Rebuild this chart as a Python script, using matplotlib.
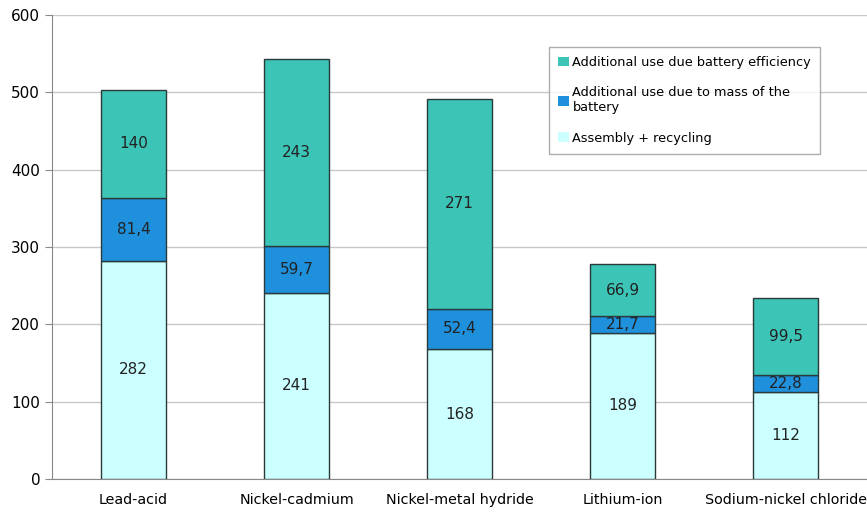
import matplotlib.pyplot as plt
import numpy as np

categories = ['Lead-acid', 'Nickel-cadmium', 'Nickel-metal hydride', 'Lithium-ion', 'Sodium-nickel chloride']
assembly = [282, 241, 168, 189, 112]
mass = [81.4, 59.7, 52.4, 21.7, 22.8]
efficiency = [140, 243, 271, 66.9, 99.5]

c_assembly = '#ccffff'
c_mass = '#1e90dc'
c_eff = '#3cc4b6'

fig = plt.figure(figsize=(8.67, 5.16), dpi=100)
ax = fig.add_axes([0.06, 0.0717, 0.94, 0.8993])

x = np.arange(len(categories))
w = 0.40
b1 = ax.bar(x, assembly, w, color=c_assembly, edgecolor='#2a3a3a', linewidth=1, zorder=3,
            label='Assembly + recycling')
bottom2 = np.array(assembly)
b2 = ax.bar(x, mass, w, bottom=bottom2, color=c_mass, edgecolor='#2a3a3a', linewidth=1, zorder=3,
            label='Additional use due to mass of the\nbattery')
bottom3 = bottom2 + np.array(mass)
b3 = ax.bar(x, efficiency, w, bottom=bottom3, color=c_eff, edgecolor='#2a3a3a', linewidth=1, zorder=3,
            label='Additional use due battery efficiency')

def fmt(v):
    s = ('%g' % v)
    return s.replace('.', ',')

for i in range(len(x)):
    ax.text(x[i], assembly[i] / 2, fmt(assembly[i]), ha='center', va='center', fontsize=11, color='#222222', zorder=4)
    ax.text(x[i], bottom2[i] + mass[i] / 2, fmt(mass[i]), ha='center', va='center', fontsize=11, color='#222222', zorder=4)
    ax.text(x[i], bottom3[i] + efficiency[i] / 2, fmt(efficiency[i]), ha='center', va='center', fontsize=11, color='#222222', zorder=4)

ax.set_xlim(-0.5, 4.5)
ax.set_ylim(0, 600)
ax.set_yticks(range(0, 700, 100))
ax.set_xticks(x)
ax.set_xticklabels(categories, fontsize=10.3)
ax.tick_params(axis='y', labelsize=11, length=5, color='#888888')
ax.tick_params(axis='x', length=0, pad=10)
ax.yaxis.grid(True, color='#c8c8c8', linewidth=1, zorder=0)
ax.set_axisbelow(True)
for s in ['top', 'right']:
    ax.spines[s].set_visible(False)
ax.spines['left'].set_color('#888888')
ax.spines['bottom'].set_color('#888888')

leg = ax.legend(handles=[b3, b2, b1], loc='upper left', bbox_to_anchor=(0.61, 0.931),
                borderaxespad=0, fontsize=9.3, frameon=True, fancybox=False, edgecolor='#999999',
                handlelength=0.8, handleheight=0.8, handletextpad=0.3, labelspacing=1.35,
                borderpad=0.7)
for h in leg.legend_handles:
    h.set_edgecolor('none')

fig.savefig('out.png', dpi=100)
